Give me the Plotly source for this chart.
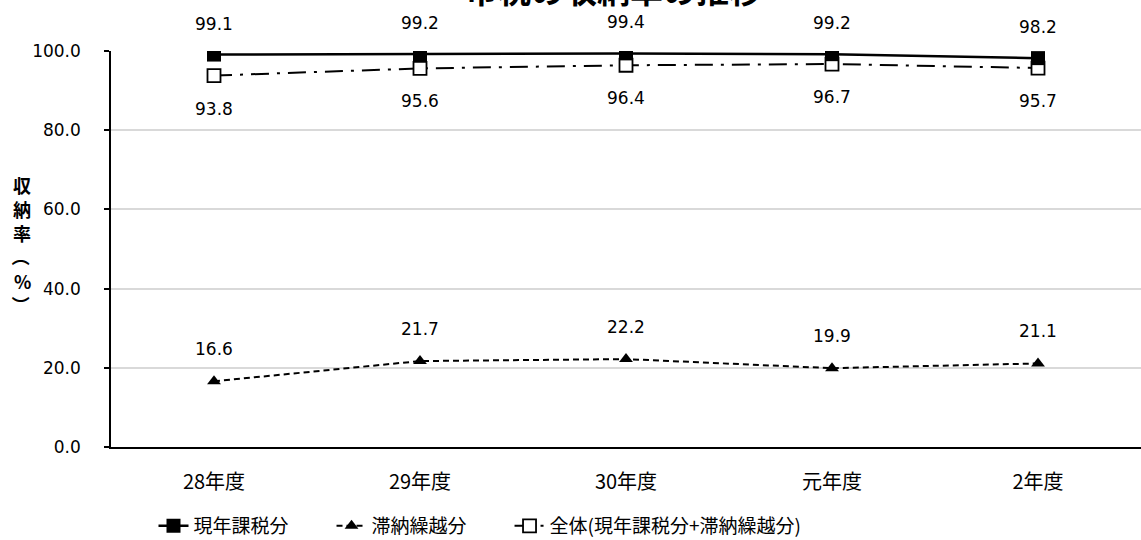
import plotly.graph_objects as go

# 年度別の市税収納率（%）
years = ["28年度", "29年度", "30年度", "元年度", "2年度"]
current_year = [99.1, 99.2, 99.4, 99.2, 98.2]      # 現年課税分
arrears = [16.6, 21.7, 22.2, 19.9, 21.1]           # 滞納繰越分
overall = [93.8, 95.6, 96.4, 96.7, 95.7]           # 全体（現年課税分+滞納繰越分）
y_ticks = [0, 20, 40, 60, 80, 100]

JP = "Noto Sans CJK JP"
NUM = "DejaVu Sans"
GAP = "\u3000\u3000"   # spacing between legend entries

fig = go.Figure()

# 全体 is drawn first so the filled squares sit on top of it
fig.add_trace(go.Scatter(
    x=years, y=overall, mode="lines+markers",
    name="全体(現年課税分+滞納繰越分)", legendrank=3,
    line=dict(color="black", width=2, dash="18px,8px,3px,8px"),
    marker=dict(symbol="square", size=13, color="white",
                line=dict(color="black", width=1.8)),
))
fig.add_trace(go.Scatter(
    x=years, y=arrears, mode="lines+markers",
    name="滞納繰越分" + GAP, legendrank=2,
    line=dict(color="black", width=2, dash="6px,4px"),
    marker=dict(symbol="triangle-up", size=12, color="black"),
))
fig.add_trace(go.Scatter(
    x=years, y=current_year, mode="lines+markers",
    name="現年課税分" + GAP, legendrank=1,
    line=dict(color="black", width=2.5),
    marker=dict(symbol="square", size=14, color="black"),
))

annotations = []
for series, shift in ((current_year, 31), (arrears, 32), (overall, -33)):
    for x, v in zip(years, series):
        annotations.append(dict(
            x=x, y=v, xref="x", yref="y", text=f"{v:.1f}", showarrow=False,
            yshift=shift, font=dict(family=NUM, size=17, color="black"),
        ))

# chart title (partly above the top edge of the page)
annotations.append(dict(
    x=(613 - 111) / 1030, y=1 + (51 - 15) / 396, xref="paper", yref="paper",
    xanchor="center", yanchor="bottom", showarrow=False,
    text="<b>市税の収納率の推移</b>",
    font=dict(family=JP, size=33, color="black"),
))

# vertical y-axis title, one character per line; brackets turned sideways
y_title_chars = [("収", 0), ("納", 0), ("率", 0), ("（", 90), ("%", 0), ("）", 90)]
for i, (ch, angle) in enumerate(y_title_chars):
    annotations.append(dict(
        x=(22 - 111) / 1030, y=(447 - (185 + i * 24)) / 396,
        xref="paper", yref="paper",
        xanchor="center", yanchor="middle", showarrow=False,
        text=f"<b>{ch}</b>", textangle=angle,
        font=dict(family=JP, size=18, color="black"),
    ))

fig.update_layout(
    width=1141, height=540,
    margin=dict(l=111, r=0, t=51, b=93, autoexpand=False),
    paper_bgcolor="white", plot_bgcolor="white",
    showlegend=True,
    legend=dict(
        orientation="h", xanchor="center", yanchor="middle",
        x=(480 - 111) / 1030, y=-(526 - 447) / 396,
        font=dict(family=JP, size=19, color="black"),
        tracegroupgap=0,
    ),
    annotations=annotations,
    hovermode=False,
)

fig.update_xaxes(
    type="category", range=[-0.5, 4.5],
    showline=True, linecolor="black", linewidth=1.5,
    showgrid=False, ticks="outside", ticklen=16, tickcolor="rgba(0,0,0,0)",
    tickfont=dict(family=JP, size=20, color="black"),
)
fig.update_yaxes(
    range=[0, 100], tickvals=y_ticks, tickformat=".1f",
    showline=True, linecolor="black", linewidth=1.5,
    showgrid=True, gridcolor="#d9d9d9", gridwidth=1.5,
    ticks="outside", ticklen=5, tickcolor="black", tickwidth=1.5,
    ticklabelstandoff=20,
    tickfont=dict(family=NUM, size=17, color="black"),
    zeroline=False,
)

fig.write_html("out.html")
